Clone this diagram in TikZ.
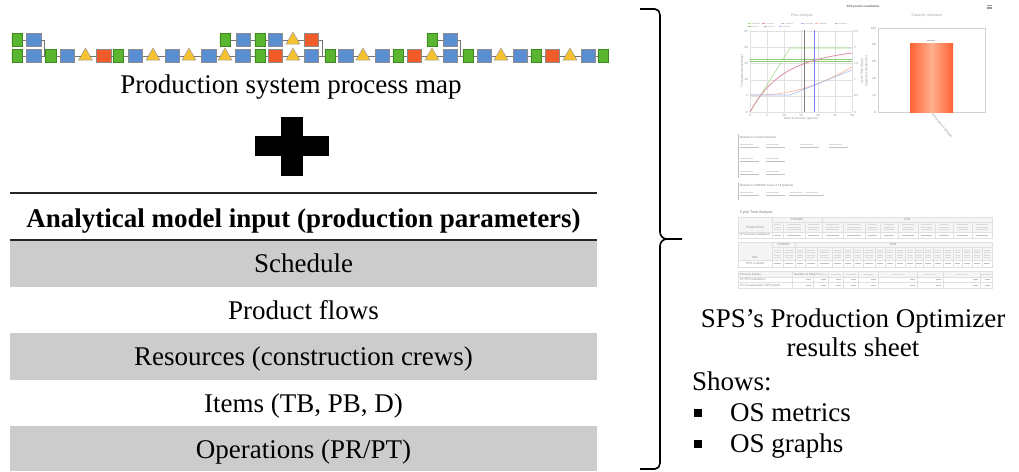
\documentclass[tikz,border=0pt]{standalone}
\usepackage{fontspec}
\setmainfont{Liberation Serif}
\newfontfamily\uifont{Liberation Sans}
\usetikzlibrary{shapes.geometric}
\definecolor{pmgreen}{HTML}{5CB531}
\definecolor{pmgreentop}{HTML}{8ED36A}
\definecolor{pmgreenline}{HTML}{3C8A1E}
\definecolor{pmblue}{HTML}{5B8ED0}
\definecolor{pmyellow}{HTML}{F6C12F}
\definecolor{pmorange}{HTML}{F15A29}
\definecolor{rowgray}{HTML}{CCCCCC}
\definecolor{chgreen}{HTML}{A3DE8A}
\definecolor{chdkgreen}{HTML}{8CCB72}
\definecolor{chpink}{HTML}{E08CA0}
\definecolor{chorange}{HTML}{F8B295}
\definecolor{chblue}{HTML}{A3B8EE}
\definecolor{barorange}{HTML}{FF6233}
\definecolor{barlight}{HTML}{FFB08E}
\newcommand\bigtxt{\fontsize{27}{32}\selectfont}
\newcommand\tinytxt{\uifont\fontsize{3}{3.5}\selectfont}
\begin{document}
\begin{tikzpicture}[x=1pt,y=-1pt,
  ptc/.style={cylinder, shape border rotate=90, aspect=1.1, minimum width=10.5pt,
    minimum height=12.5pt, inner sep=0pt, draw=pmgreenline, line width=0.5pt,
    cylinder uses custom fill, cylinder body fill=pmgreen, cylinder end fill=pmgreentop},
  ptb/.style={rectangle, minimum width=14.5pt, minimum height=13pt, inner sep=0pt,
    draw=black!45, fill=pmblue, line width=0.5pt},
  pto/.style={ptb, fill=pmorange},
  ptt/.style={regular polygon, regular polygon sides=3, minimum size=16pt, inner sep=0pt,
    draw=black!40, fill=pmyellow, line width=0.5pt},
  link/.style={draw=black!55, line width=0.6pt},
  rule/.style={draw=black!85, line width=1.8pt},
  rowtxt/.style={anchor=base, font=\bigtxt},
  sidetxt/.style={anchor=base west, font=\bigtxt, inner sep=0pt},
  bulletbox/.style={fill=black, minimum size=7.5pt, inner sep=0pt},
  ui/.style={font=\tinytxt, text=black!45, inner sep=0pt},
  grid/.style={draw=black!12, line width=0.3pt},
  ph/.style={fill=black!14},
  phd/.style={fill=black!24}
]
\useasboundingbox (0,0) rectangle (1019,471);

% ---------- process map: main line ----------
\foreach \x/\s [count=\i] in {17/ptc,33.5/ptb,50.5/ptc,67/ptb,85.5/ptt,103.5/pto,118/ptc,135/ptb,
    153/ptt,172/ptb,189/ptt,208.5/ptb,225/ptt,242.5/ptb,260/ptc,275/pto,293/ptt,311/ptb,
    330/ptc,345.5/ptb,363/ptt,382/ptb,398/ptc,414/pto,432/ptt,450/ptb,468/ptc,484/ptb,
    501/ptt,520/ptb,536/ptc,552/pto,570/ptt,588/ptb,603/ptc}
  \node[\s] (b\i) at (\x,56) {};
\foreach \i in {1,...,34}{
  \pgfmathtruncatemacro\j{\i+1}
  \draw[link] (b\i) -- (b\j);
}
% ---------- process map: feeder branches ----------
\node[ptc] (ta1) at (17,40) {};
\node[ptb] (ta2) at (33.5,40) {};
\coordinate (ma) at (44,56);
\draw[link] (ta1) -- (ta2);
\draw[link] (ta2.east) -| (ma);

\foreach \x/\s [count=\i] in {225/ptc,243/ptb,260/ptc,275/ptb,293/ptt,311/pto}
  \node[\s] (tb\i) at (\x,40) {};
\foreach \i in {1,...,5}{
  \pgfmathtruncatemacro\j{\i+1}
  \draw[link] (tb\i) -- (tb\j);
}
\coordinate (mb) at (322,56);
\draw[link] (tb6.east) -| (mb);

\node[ptc] (tc1) at (432,40) {};
\node[ptb] (tc2) at (450,40) {};
\coordinate (mc) at (460,56);
\draw[link] (tc1) -- (tc2);
\draw[link] (tc2.east) -| (mc);

\node[rowtxt] (maptitle) at (291,93) {Production system process map};

% ---------- plus sign ----------
\fill[black] (255,136) rectangle (329,156);
\fill[black] (281,117) rectangle (303,176);

% ---------- parameter table ----------
\fill[rowgray] (10,241) rectangle (597,287);
\fill[rowgray] (10,333) rectangle (597,380);
\fill[rowgray] (10,426) rectangle (597,471);
\draw[rule] (10,193) -- (597,193);
\draw[rule] (10,240) -- (597,240);
\node[rowtxt, font=\bigtxt\bfseries] (hdr) at (303.5,227) {Analytical model input (production parameters)};
\node[rowtxt] (r1) at (303.5,272) {Schedule};
\node[rowtxt] (r2) at (303.5,319) {Product flows};
\node[rowtxt] (r3) at (303.5,365) {Resources (construction crews)};
\node[rowtxt] (r4) at (303.5,412) {Items (TB, PB, D)};
\node[rowtxt] (r5) at (303.5,458) {Operations (PR/PT)};

% ---------- brace ----------
\draw[line width=1.6pt, line join=round]
  (640,9) -- (655,9) to[out=0,in=90] (660,15) -- (660,232) to[out=-90,in=180] (667,239) -- (682,239);
\draw[line width=1.6pt, line join=round]
  (667,239) to[out=180,in=90] (660,246) -- (660,463) to[out=-90,in=0] (655,469) -- (640,469);

% ---------- results sheet: header ----------
\node[ui, text=black!60] (shtitle) at (863,7) {\bfseries SPS panels installation};
\foreach \dy in {-1.4,0,1.4}
  \draw[black!40, line width=0.5pt] (986.5,7+\dy) -- (991.5,7+\dy);
\node[ui, text=black!35, font=\uifont\fontsize{3.6}{4}\selectfont] (flowttl) at (802,16) {Flow Analysis};
\node[ui, text=black!35, font=\uifont\fontsize{3.6}{4}\selectfont] (capttl) at (927,16) {Capacity Utilization};

% legend marks
\foreach \x/\c in {748/chgreen,762/chpink,781/black!25,801/chblue,815/chorange,835/black!25}{
  \draw[\c, line width=0.8pt] (\x,23) -- (\x+3,23);
  \fill[ph] (\x+4,22.5) rectangle (\x+12,23.5);
}
\foreach \x/\c in {748/chdkgreen,764/black!30,779/chblue}{
  \draw[\c, line width=0.8pt] (\x,26.5) -- (\x+3,26.5);
  \fill[ph] (\x+4,26) rectangle (\x+11,27);
}

% ---------- results sheet: flow chart ----------
\foreach \k in {0,...,6} \draw[grid] (750+17*\k,30) -- (750+17*\k,112);
\foreach \y in {31,47,63,80,96,112} \draw[grid] (750,\y) -- (852,\y);
\foreach \v [count=\k from 0] in {0,5,10,15,20,25}
  \node[ui, anchor=east] (ly\k) at (748,112-16.2*\k) {\v};
\foreach \v [count=\k from 0] in {0,0.5,1,1.5,2,2.5}
  \node[ui, anchor=west] (ry\k) at (854,112-16.2*\k) {\v};
\foreach \v [count=\k from 0] in {0,5,10,15,20,25,30}
  \node[ui, anchor=north] (lx\k) at (750+17*\k,114) {\v};
\node[ui, rotate=90] (thaxis) at (742,71) {Throughput (panels/day)};
\node[ui] (wipaxis) at (801,119) {Work-in-Process (panels)};
\node[ui, rotate=90] (ctaxis) at (862,71) {Cycle Time (Days)};
\node[ui, rotate=90] (cuaxis) at (866.5,71) {Capacity Utilization (\%)};

\draw[chdkgreen, line width=0.5pt] (750,59.5) -- (852,59.5);
\draw[chdkgreen, line width=0.5pt] (750,61.2) -- (852,61.2);
\draw[chgreen, line width=0.6pt] (750,112) -- (790,48) -- (852,48);
\draw[chpink, line width=0.8pt] (750,112) .. controls (772,72) and (800,60) .. (852,53);
\draw[chorange, line width=0.6pt] (750,95) .. controls (790,96) and (818,86) .. (852,67);
\draw[chblue, line width=0.6pt] (750,95) -- (790,95) -- (852,70);
\draw[black!50, line width=0.6pt] (804,30) -- (804,112);
\draw[blue!50, line width=0.6pt] (814,30) -- (814,112);

% ---------- results sheet: capacity bar chart ----------
\draw[black!18, line width=0.3pt] (878,28) rectangle (985,112);
\foreach \v [count=\k from 0] in {0,20,40,60,80,100}
  \node[ui, anchor=east] (cy\k) at (876,112-16.8*\k) {\v};
\shade[left color=barorange, right color=barorange, middle color=barlight] (910,43) rectangle (953,112);
\fill[phd] (927,39.5) rectangle (935,40.7);
\node[ui, rotate=-50, anchor=west] (barlbl) at (932,114) {SPS panels installation};

% ---------- results sheet: metric blocks ----------
\draw[black!25, line width=0.7pt] (738,134) -- (738,178);
\draw[black!25, line width=0.7pt] (738,183) -- (738,200);
\node[ui, anchor=west, text=black!50] (blk1) at (740,137) {Based on Current Demand};
\foreach \x/\y in {740/144,766/144,800/144,829/144,740/158,766/158,740/171,766/171,
                   740/192,766/192,789/192,805/192}{
  \fill[ph] (\x,\y) rectangle (\x+13,\y+0.9);
  \fill[phd] (\x,\y+3) rectangle (\x+19,\y+4.2);
}
\node[ui, anchor=west, text=black!50] (blk2) at (740,186) {Based on CONWIP Level of 18 (panels)};
\node[ui, anchor=west, text=black!55, font=\uifont\fontsize{3.6}{4}\selectfont] (ctatl) at (740,213) {Cycle Time Analysis};

% ---------- results sheet: table 1 ----------
\fill[black!4] (738,217) rectangle (992,232);
\draw[grid] (738,217) rectangle (992,238);
\draw[grid] (772,222) -- (992,222);
\draw[grid] (738,232) -- (992,232);
\draw[grid] (822,217) -- (822,222);
\draw[grid] (772,217) -- (772,222);
\node[ui] (t1a) at (797,219.5) {CONWIP};
\node[ui] (t1b) at (907,219.5) {Pulls};
\node[ui] (t1c) at (755,227.5) {Product Flow};
\node[ui] (t1d) at (755,235) {SPS panels installation};
\foreach \xa/\xb in {772/783,783/805,805/822,822/843,843/865,865/880,880/898,898/918,
                     918/935,935/953,953/972,972/992}{
  \pgfmathsetmacro\xm{(\xa+\xb)/2}
  \pgfmathsetmacro\hw{0.3*(\xb-\xa)}
  \foreach \yy in {224,226.5,229} \fill[ph] (\xm-\hw,\yy) rectangle (\xm+\hw,\yy+0.9);
  \fill[phd] (\xm-\hw,234.5) rectangle (\xm+\hw,235.6);
  \draw[grid] (\xa,222) -- (\xa,238);
}

% ---------- results sheet: table 2 ----------
\fill[black!4] (738,242) rectangle (992,260);
\draw[grid] (738,242) rectangle (992,267);
\draw[grid] (772,247) -- (992,247);
\draw[grid] (738,260) -- (992,260);
\draw[grid] (772,242) -- (772,247);
\draw[grid] (795,242) -- (795,247);
\node[ui] (t2a) at (783.5,244.5) {CONWIP};
\node[ui] (t2b) at (893,244.5) {Pulls};
\node[ui] (t2c) at (755,257) {Item};
\node[ui] (t2d) at (755,263.5) {SPS installed};
\foreach \xa/\xb in {772/783,783/795,795/805,805/817,817/832,832/843,843/853,853/863,
                     863/875,875/885,885/895,895/905,905/915,915/923,923/933,933/943,
                     943/953,953/962,962/972,972/982,982/992}{
  \pgfmathsetmacro\xm{(\xa+\xb)/2}
  \pgfmathsetmacro\hw{0.32*(\xb-\xa)}
  \foreach \yy in {249.5,252,254.5,257} \fill[ph] (\xm-\hw,\yy) rectangle (\xm+\hw,\yy+0.9);
  \fill[phd] (\xm-\hw,263) rectangle (\xm+\hw,264.1);
  \draw[grid] (\xa,247) -- (\xa,267);
}

% ---------- results sheet: table 3 ----------
\fill[black!4] (738,271) rectangle (992,277);
\draw[grid] (738,271) rectangle (992,288);
\draw[grid] (738,277) -- (992,277);
\draw[grid] (738,282.5) -- (992,282.5);
\node[ui, anchor=west] (t3a) at (740,274) {Process Center};
\node[ui, anchor=west] (t3b) at (794,274) {Number of Machines};
\node[ui, anchor=west] (t3c) at (740,279.8) {P1 SPS installation};
\node[ui, anchor=west] (t3d) at (740,285.3) {P2 Transportation SPS panels};
\foreach \xa/\xb in {792/813,813/828,828/843,843/858,858/878,878/917,917/943,943/980,980/992}{
  \draw[grid] (\xa,271) -- (\xa,288);
  \fill[phd] (\xb-7,279.3) rectangle (\xb-2,280.3);
  \fill[phd] (\xb-7,284.8) rectangle (\xb-2,285.8);
}
\foreach \xa/\xb in {813/828,828/843,843/858,858/878,878/917,917/943,943/980,980/992}{
  \pgfmathsetmacro\xm{(\xa+\xb)/2}
  \fill[ph] (\xm-5,273.6) rectangle (\xm+5,274.5);
}

% ---------- results sheet caption and list ----------
\node[rowtxt] (res1) at (853,327) {SPS’s Production Optimizer};
\node[rowtxt] (res2) at (853,356) {results sheet};
\node[sidetxt] (shows) at (692,390) {Shows:};
\node[bulletbox] (bul1) at (698,413) {};
\node[sidetxt] (os1) at (730,421) {OS metrics};
\node[bulletbox] (bul2) at (698,444) {};
\node[sidetxt] (os2) at (730,452) {OS graphs};
\end{tikzpicture}
\end{document}
